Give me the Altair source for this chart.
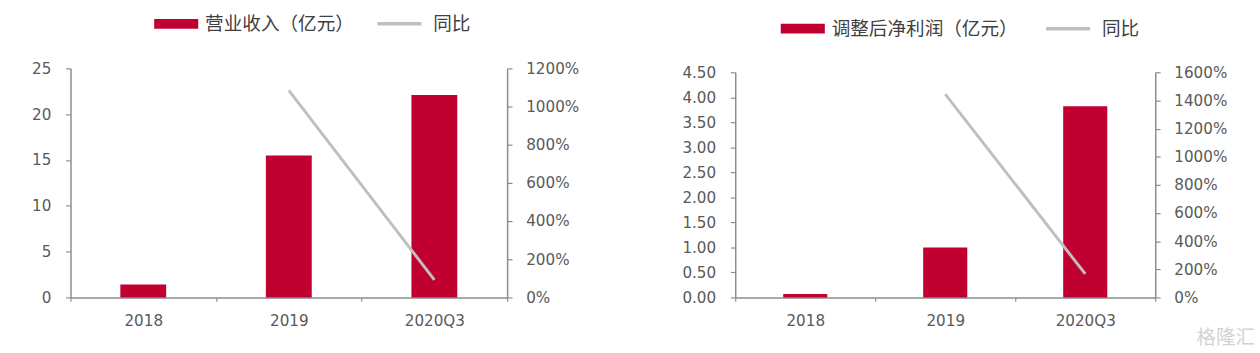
import altair as alt
import pandas as pd

categories = ["2018", "2019", "2020Q3"]
revenue = [1.4, 15.5, 22.1]
revenue_yoy = [None, 10.85, 0.92]
profit = [0.07, 1.0, 3.82]
profit_yoy = [None, 14.45, 1.67]

rev_label = "营业收入（亿元）"
profit_label = "调整后净利润（亿元）"
yoy_label = "同比"

rev_ticks = [0, 5, 10, 15, 20, 25]
rev_yoy_ticks = [0, 2, 4, 6, 8, 10, 12]
profit_ticks = [0, 0.5, 1.0, 1.5, 2.0, 2.5, 3.0, 3.5, 4.0, 4.5]
profit_yoy_ticks = [0, 2, 4, 6, 8, 10, 12, 14, 16]

RED = "#C00030"
GRAY = "#BFBFBF"
AXIS = "#8C8C8C"
TXT = "#595959"
LATIN = "DejaVu Sans"
LSIZE = 15.5
CJK = "Noto Sans CJK SC"
CSIZE = 19


def panel(values, yoy, label, w, h, top, lticks, lfmt, rticks, lx, sx, ly):
    df = pd.DataFrame({"cat": categories, "val": values, "yoy": yoy,
                       "s": label, "t": yoy_label})
    x = alt.X("cat:N", sort=categories, title=None,
              scale=alt.Scale(paddingInner=0, paddingOuter=0),
              axis=alt.Axis(labelAngle=0, tickBand="extent", tickSize=4,
                            labelPadding=13, labelFontSize=LSIZE, labelFont=LATIN,
                            labelColor=TXT, domainColor=AXIS, tickColor=AXIS,
                            domainWidth=1.5, tickWidth=1.2))
    bars = alt.Chart(df).mark_bar(width=alt.RelativeBandSize(0.315)).encode(
        x=x,
        y=alt.Y("val:Q", title=None,
                scale=alt.Scale(domain=[lticks[0], lticks[-1]], nice=False,
                                range=[h, top]),
                axis=alt.Axis(values=lticks, format=lfmt, tickSize=5,
                              labelPadding=15, labelFontSize=LSIZE, labelFont=LATIN,
                              labelColor=TXT, domainColor=AXIS, tickColor=AXIS,
                              domainWidth=1.5, tickWidth=1.2)),
        fill=alt.Fill("s:N", scale=alt.Scale(domain=[label], range=[RED]),
                      legend=alt.Legend(title=None, orient="none",
                                        legendX=lx + 17.5, legendY=ly, padding=0,
                                        symbolType="M-4.5,-1H4.5V1H-4.5Z",
                                        symbolSize=100, symbolStrokeWidth=0,
                                        labelFont=CJK, labelFontSize=CSIZE,
                                        labelLimit=400,
                                        labelColor="#404040", labelOffset=20)),
    )
    line = alt.Chart(df).transform_filter("isValid(datum.yoy)").mark_line(
        strokeWidth=3).encode(
        x=x,
        y=alt.Y("yoy:Q", title=None,
                scale=alt.Scale(domain=[rticks[0], rticks[-1]], nice=False,
                                range=[h, top]),
                axis=alt.Axis(orient="right", values=rticks, format=".0%",
                              tickSize=5, labelPadding=14, labelFontSize=LSIZE,
                              labelFont=LATIN, labelColor=TXT, domainColor=AXIS,
                              tickColor=AXIS, domainWidth=1.5, tickWidth=1.2)),
        stroke=alt.Stroke("t:N", scale=alt.Scale(domain=[yoy_label], range=[GRAY]),
                          legend=alt.Legend(title=None, orient="none",
                                            legendX=sx + 17.5, legendY=ly,
                                            padding=0,
                                            symbolType="M-4.5,0H4.5",
                                            symbolSize=100,
                                            symbolStrokeWidth=3.5,
                                            labelFont=CJK, labelFontSize=CSIZE,
                                            labelLimit=400,
                                            labelColor="#404040", labelOffset=25)),
    )
    return alt.layer(bars, line).resolve_scale(y="independent").properties(
        width=w, height=h)


left = panel(revenue, revenue_yoy, rev_label, 446, 234, 0, rev_ticks, "d",
             rev_yoy_ticks, 81, 309, -55)
right_base = panel(profit, profit_yoy, profit_label, 429, 234, 4, profit_ticks, ".2f",
                   profit_yoy_ticks, 42, 313, -50)

mark_df = pd.DataFrame({"w": ["格隆汇"]})
watermark = alt.Chart(mark_df).mark_text(
    font=CJK, fontSize=20, color="#D3D3D3", align="left", baseline="middle"
).encode(text="w:N", x=alt.value(471), y=alt.value(276))

right = alt.layer(right_base, watermark)

chart = alt.hconcat(left, right, spacing=233, bounds="flush").resolve_scale(
    fill="independent", stroke="independent"
).configure(
    padding={"left": 32, "top": 11, "right": 5, "bottom": 5}
).configure_view(stroke=None).configure_axis(grid=False)

chart.save("out.html", embed_options={"renderer": "svg", "actions": False})
